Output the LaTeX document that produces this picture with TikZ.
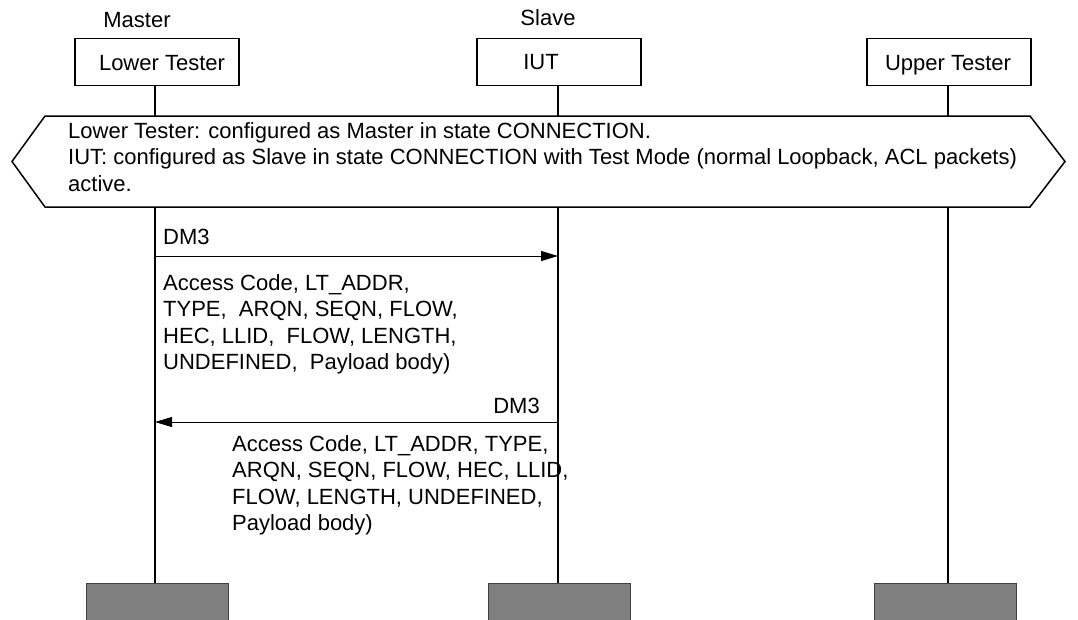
\documentclass[tikz,border=0pt]{standalone}
\usepackage{fontspec}
\setmainfont{Liberation Sans}
\usetikzlibrary{arrows.meta}
\begin{document}
\begin{tikzpicture}[x=1pt,y=-1pt,
  every node/.style={inner sep=0pt,font=\fontsize{22}{26.5}\selectfont},
  hdr/.style={draw,line width=1.5pt,minimum width=164pt,minimum height=47pt},
  endbox/.style={draw=black!75,line width=0.8pt,fill=black!50,minimum width=142pt,minimum height=40pt},
  life/.style={line width=1.5pt},
  msg/.style={line width=0.9pt,-{Triangle[length=17pt,width=10pt]}},
  txt/.style={align=left,anchor=north west}]
\useasboundingbox (0,0) rectangle (1078,619);
% headers
\node[hdr] (lt) at (157,62) {};
\node[hdr] (iut) at (559,62) {};
\node[hdr] (ut) at (949,62) {};
\node[anchor=base] (ltt) at (162,70) {Lower Tester};
\node[anchor=base] (iutt) at (541,69) {IUT};
\node[anchor=base] (utt) at (948,70) {Upper Tester};
\node[anchor=base] (master) at (137,27) {Master};
\node[anchor=base] (slave) at (548,25) {Slave};
% end boxes
\node[endbox,anchor=north] (e1) at (157,583) {};
\node[endbox,anchor=north] (e2) at (559,583) {};
\node[endbox,anchor=north] (e3) at (945,583) {};
% condition hexagon
\draw[line width=1.5pt] (45,116) -- (1030,116) -- (1065,161.5) -- (1030,207) -- (45,207) -- (12,161.5) -- cycle;
\node[txt] (cond) at (68,139-20.35) {\fontsize{22}{27.5}\selectfont\strut Lower Tester: configured as Master in state CONNECTION.\\IUT: configured as Slave in state CONNECTION with Test Mode (normal Loopback, ACL packets)\\active.};
\coordinate (h1) at (155,116); \coordinate (h2) at (558,116); \coordinate (h3) at (948,116);
\coordinate (b1) at (155,207); \coordinate (b2) at (558,207); \coordinate (b3) at (948,207);
% lifelines
\draw[life] (lt.south -| h1) -- (h1);
\draw[life] (iut.south -| h2) -- (h2);
\draw[life] (ut.south -| h3) -- (h3);
\draw[life] (b1) -- (e1.north -| b1);
\draw[life] (b2) -- (e2.north -| b2);
\draw[life] (b3) -- (e3.north -| b3);
% messages
\coordinate (m1s) at (155,256); \coordinate (m1e) at (558,256);
\coordinate (m2s) at (558,422); \coordinate (m2e) at (155,422);
\draw[msg] (m1s) -- (m1e);
\draw[msg] (m2s) -- (m2e);
\node[anchor=base west] (dm1) at (163,244) {DM3};
\node[anchor=base east] (dm2) at (540,413) {DM3};
\node[txt] (p1) at (163,290-18.55) {\strut Access Code, LT\_ADDR,\\TYPE,\ \ ARQN, SEQN, FLOW,\\HEC, LLID,\ \ FLOW, LENGTH,\\UNDEFINED,\ \ Payload body)};
\node[txt] (p2) at (232,451-18.55) {\strut Access Code, LT\_ADDR, TYPE,\\ARQN, SEQN, FLOW, HEC, LLID,\\FLOW, LENGTH, UNDEFINED,\\Payload body)};
\end{tikzpicture}
\end{document}
